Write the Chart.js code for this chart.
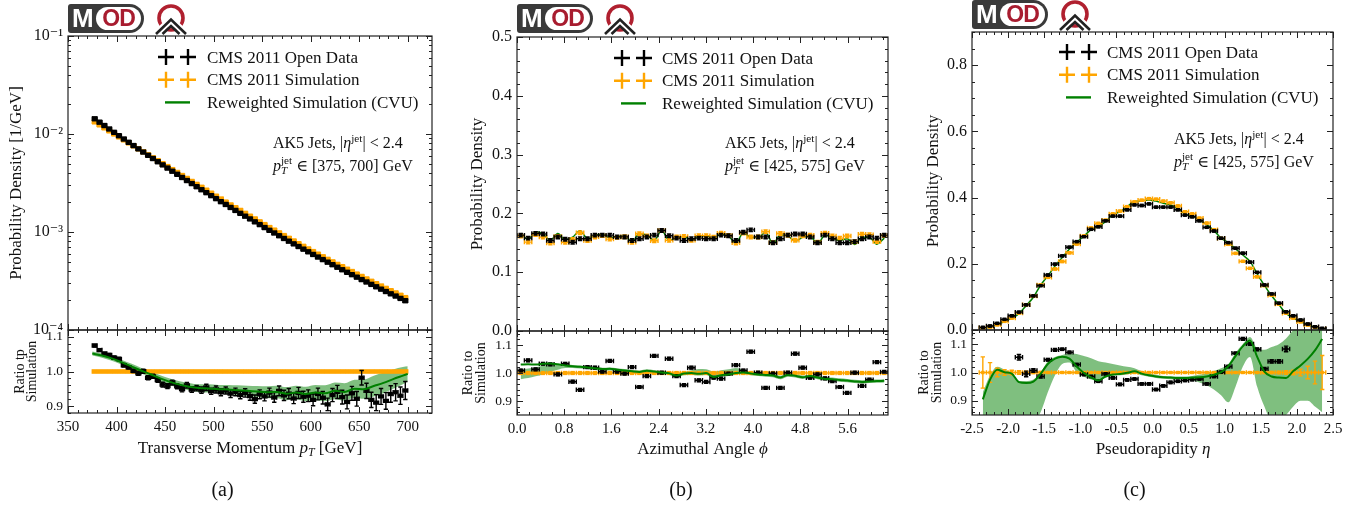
<!DOCTYPE html>
<html>
<head>
<meta charset="utf-8">
<title>CMS 2011 jet distributions</title>
<script src="https://cdn.jsdelivr.net/npm/chart.js@4.4.1/dist/chart.umd.min.js"></script>
<style>
   body { margin: 0; background: #fff; }
   #page { position: relative; width: 1372px; height: 506px; overflow: hidden; }
   canvas { position: absolute; left: 0; top: 0; }
   .mod { position: absolute; width: 76px; height: 29px; background: #3a3a3a; border-radius: 3px 15px 15px 3px;
          font: bold 26px 'Liberation Sans', Arial, sans-serif; color: #fff; }
   .mod .m { position: absolute; left: 4px; top: 0; line-height: 29px; }
   .mod .od { position: absolute; left: 28px; top: 3px; width: 45px; height: 23px; border-radius: 12px; background: #fff;
              color: #a81c2f; font-size: 23px; line-height: 23px; text-align: center; letter-spacing: -1px; }
   .ring { position: absolute; }
</style>
</head>
<body>
<div id="page">
   <canvas id="aMain" width="1372" height="506"></canvas>
   <canvas id="aRatio" width="1372" height="506"></canvas>
   <canvas id="bMain" width="1372" height="506"></canvas>
   <canvas id="bRatio" width="1372" height="506"></canvas>
   <canvas id="cMain" width="1372" height="506"></canvas>
   <canvas id="cRatio" width="1372" height="506"></canvas>
</div>
<script>
'use strict';

var W = 1372, H = 506;
var FONT = "'Liberation Serif', 'DejaVu Serif', serif";
var BLACK = '#000000', ORANGE = '#ffa500', GREEN = '#008000', BAND = 'rgba(0, 128, 0, 0.5)';

var legendLabels = ['CMS 2011 Open Data', 'CMS 2011 Simulation', 'Reweighted Simulation (CVU)'];

// (a) transverse momentum, 5 GeV bins
var ptBins = [377.5, 382.5, 387.5, 392.5, 397.5, 402.5, 407.5, 412.5, 417.5, 422.5,
   427.5, 432.5, 437.5, 442.5, 447.5, 452.5, 457.5, 462.5, 467.5, 472.5,
   477.5, 482.5, 487.5, 492.5, 497.5, 502.5, 507.5, 512.5, 517.5, 522.5,
   527.5, 532.5, 537.5, 542.5, 547.5, 552.5, 557.5, 562.5, 567.5, 572.5,
   577.5, 582.5, 587.5, 592.5, 597.5, 602.5, 607.5, 612.5, 617.5, 622.5,
   627.5, 632.5, 637.5, 642.5, 647.5, 652.5, 657.5, 662.5, 667.5, 672.5,
   677.5, 682.5, 687.5, 692.5, 697.5];
var ptData = [1.43e-2, 1.32e-2, 1.22e-2, 1.125e-2, 1.04e-2, 9.61e-3, 8.89e-3, 8.23e-3, 7.62e-3, 7.05e-3,
   6.54e-3, 6.06e-3, 5.62e-3, 5.21e-3, 4.84e-3, 4.49e-3, 4.17e-3, 3.88e-3, 3.60e-3, 3.35e-3,
   3.12e-3, 2.90e-3, 2.70e-3, 2.52e-3, 2.35e-3, 2.19e-3, 2.04e-3, 1.91e-3, 1.78e-3, 1.66e-3,
   1.55e-3, 1.45e-3, 1.36e-3, 1.27e-3, 1.19e-3, 1.11e-3, 1.04e-3, 9.77e-4, 9.16e-4, 8.59e-4,
   8.06e-4, 7.57e-4, 7.11e-4, 6.68e-4, 6.28e-4, 5.90e-4, 5.55e-4, 5.23e-4, 4.92e-4, 4.64e-4,
   4.37e-4, 4.12e-4, 3.88e-4, 3.67e-4, 3.46e-4, 3.27e-4, 3.09e-4, 2.92e-4, 2.76e-4, 2.61e-4,
   2.47e-4, 2.34e-4, 2.22e-4, 2.10e-4, 1.99e-4];
var ptSim = [1.33e-2, 1.24e-2, 1.156e-2, 1.077e-2, 1.002e-2, 9.34e-3, 8.71e-3, 8.12e-3, 7.57e-3, 7.06e-3,
   6.58e-3, 6.14e-3, 5.72e-3, 5.34e-3, 4.98e-3, 4.65e-3, 4.33e-3, 4.05e-3, 3.77e-3, 3.52e-3,
   3.28e-3, 3.06e-3, 2.86e-3, 2.67e-3, 2.49e-3, 2.32e-3, 2.17e-3, 2.02e-3, 1.89e-3, 1.77e-3,
   1.66e-3, 1.55e-3, 1.45e-3, 1.36e-3, 1.27e-3, 1.19e-3, 1.11e-3, 1.045e-3, 9.80e-4, 9.19e-4,
   8.62e-4, 8.10e-4, 7.60e-4, 7.14e-4, 6.72e-4, 6.31e-4, 5.94e-4, 5.59e-4, 5.26e-4, 4.96e-4,
   4.67e-4, 4.43e-4, 4.17e-4, 3.95e-4, 3.72e-4, 3.52e-4, 3.32e-4, 3.14e-4, 2.97e-4, 2.81e-4,
   2.66e-4, 2.52e-4, 2.39e-4, 2.26e-4, 2.14e-4];
var ptRatio = [1.075, 1.062, 1.052, 1.048, 1.040, 1.036, 1.018, 1.012, 1.002, 0.995,
   1.001, 0.982, 0.986, 0.975, 0.962, 0.958, 0.968, 0.957, 0.949, 0.960,
   0.948, 0.952, 0.946, 0.954, 0.943, 0.948, 0.940, 0.945, 0.936, 0.941,
   0.932, 0.938, 0.929, 0.920, 0.934, 0.928, 0.939, 0.925, 0.944, 0.931,
   0.936, 0.922, 0.938, 0.927, 0.930, 0.918, 0.935, 0.924, 0.905, 0.932,
   0.941, 0.926, 0.912, 0.937, 0.921, 0.982, 0.944, 0.918, 0.910, 0.928,
   0.915, 0.935, 0.940, 0.930, 0.945];
var ptRatioErr = [0.004, 0.004, 0.004, 0.004, 0.005, 0.005, 0.005, 0.005, 0.005, 0.006,
   0.006, 0.006, 0.006, 0.006, 0.007, 0.007, 0.007, 0.007, 0.008, 0.008,
   0.008, 0.008, 0.009, 0.009, 0.009, 0.010, 0.010, 0.010, 0.011, 0.011,
   0.011, 0.012, 0.012, 0.012, 0.013, 0.013, 0.013, 0.014, 0.014, 0.015,
   0.015, 0.015, 0.016, 0.016, 0.017, 0.017, 0.017, 0.018, 0.018, 0.019,
   0.019, 0.020, 0.020, 0.020, 0.021, 0.021, 0.022, 0.022, 0.023, 0.023,
   0.024, 0.024, 0.025, 0.025, 0.026];
var ptSimRatio = [1, 1, 1, 1, 1, 1, 1, 1, 1, 1, 1, 1, 1,
   1, 1, 1, 1, 1, 1, 1, 1, 1, 1, 1, 1, 1,
   1, 1, 1, 1, 1, 1, 1, 1, 1, 1, 1, 1, 1,
   1, 1, 1, 1, 1, 1, 1, 1, 1, 1, 1, 1, 1,
   1, 1, 1, 1, 1, 1, 1, 1, 1, 1, 1, 1, 1];
var ptSimRatioErr = 0.004;
var ptRwX = [375, 385, 395, 405, 415, 425, 435, 445, 455, 465, 475, 485, 495, 505, 515, 525, 535,
   545, 555, 565, 575, 585, 595, 605, 615, 625, 635, 645, 655, 665, 675, 685, 695, 700];
var ptRw = [1.052, 1.046, 1.038, 1.027, 1.015, 1.003, 0.992, 0.980, 0.970, 0.962, 0.956, 0.952, 0.951, 0.949, 0.948, 0.946, 0.944,
   0.942, 0.940, 0.941, 0.936, 0.939, 0.935, 0.939, 0.937, 0.944, 0.941, 0.950, 0.949, 0.958, 0.967, 0.978, 0.988, 0.993];
var ptRwErr = [0.006, 0.006, 0.007, 0.007, 0.008, 0.008, 0.009, 0.009, 0.010, 0.010, 0.011, 0.011, 0.012, 0.012, 0.013, 0.014, 0.015,
   0.016, 0.017, 0.018, 0.019, 0.020, 0.021, 0.022, 0.023, 0.024, 0.025, 0.026, 0.028, 0.030, 0.030, 0.028, 0.025, 0.022];
var ptXTicks = [350, 400, 450, 500, 550, 600, 650, 700];
var ptYTicks = [1e-4, 1e-3, 1e-2, 1e-1];

// (b) azimuthal angle, 50 bins over [0, 2 pi]
var phiBins = [0.063, 0.188, 0.314, 0.440, 0.565, 0.691, 0.817, 0.942, 1.068, 1.194,
   1.319, 1.445, 1.571, 1.696, 1.822, 1.948, 2.073, 2.199, 2.325, 2.450,
   2.576, 2.702, 2.827, 2.953, 3.079, 3.204, 3.330, 3.456, 3.581, 3.707,
   3.833, 3.958, 4.084, 4.210, 4.335, 4.461, 4.587, 4.712, 4.838, 4.964,
   5.089, 5.215, 5.341, 5.466, 5.592, 5.718, 5.843, 5.969, 6.095, 6.220];
var phiData = [0.163, 0.158, 0.166, 0.165, 0.154, 0.160, 0.156, 0.151, 0.157, 0.157,
   0.163, 0.163, 0.163, 0.160, 0.160, 0.154, 0.157, 0.160, 0.163, 0.171,
   0.162, 0.158, 0.154, 0.157, 0.158, 0.157, 0.157, 0.163, 0.162, 0.154,
   0.168, 0.172, 0.160, 0.160, 0.150, 0.157, 0.163, 0.165, 0.165, 0.160,
   0.150, 0.163, 0.157, 0.150, 0.150, 0.152, 0.157, 0.160, 0.158, 0.163];
var phiSim = [0.1615, 0.1512, 0.1639, 0.1597, 0.1494, 0.1608, 0.1510, 0.1558, 0.1670, 0.1538,
   0.1600, 0.1622, 0.1563, 0.1592, 0.1603, 0.1508, 0.1653, 0.1618, 0.1536, 0.1708,
   0.1541, 0.1598, 0.1609, 0.1541, 0.1622, 0.1622, 0.1597, 0.1663, 0.1623, 0.1498,
   0.1665, 0.1599, 0.1598, 0.1690, 0.1503, 0.1658, 0.1628, 0.1543, 0.1619, 0.1628,
   0.1508, 0.1662, 0.1617, 0.1579, 0.1615, 0.1518, 0.1646, 0.1639, 0.1521, 0.1624];
var phiRwMain = [0.1663, 0.1559, 0.1688, 0.1650, 0.1545, 0.1658, 0.1551, 0.1595, 0.1707, 0.1569,
   0.1627, 0.1645, 0.1586, 0.1611, 0.1617, 0.1517, 0.1660, 0.1631, 0.1544, 0.1711,
   0.1539, 0.1584, 0.1606, 0.1541, 0.1617, 0.1622, 0.1575, 0.1650, 0.1615, 0.1498,
   0.1668, 0.1596, 0.1590, 0.1678, 0.1489, 0.1631, 0.1617, 0.1528, 0.1595, 0.1610,
   0.1484, 0.1627, 0.1581, 0.1540, 0.1571, 0.1472, 0.1593, 0.1590, 0.1477, 0.1579];
var phiErr = 0.003;
var phiRatio = [1.009, 1.045, 1.013, 1.033, 1.031, 0.995, 1.033, 0.969, 0.940, 1.021,
   1.019, 1.005, 1.043, 1.005, 0.998, 1.021, 0.950, 0.989, 1.061, 1.001,
   1.051, 0.989, 0.957, 1.019, 0.974, 0.968, 0.983, 0.980, 0.998, 1.028,
   1.009, 1.076, 1.001, 0.947, 0.998, 0.947, 1.001, 1.069, 1.019, 0.983,
   0.995, 0.981, 0.971, 0.950, 0.929, 1.001, 0.954, 0.976, 1.039, 1.004];
var phiRatioErr = 0.005;
var phiSimRatio = [1, 1, 1, 1, 1, 1, 1, 1, 1, 1,
   1, 1, 1, 1, 1, 1, 1, 1, 1, 1,
   1, 1, 1, 1, 1, 1, 1, 1, 1, 1,
   1, 1, 1, 1, 1, 1, 1, 1, 1, 1,
   1, 1, 1, 1, 1, 1, 1, 1, 1, 1];
var phiSimRatioErr = 0.004;
var phiRw = [1.030, 1.031, 1.030, 1.033, 1.034, 1.031, 1.027, 1.024, 1.022, 1.020,
   1.017, 1.014, 1.015, 1.012, 1.009, 1.006, 1.004, 1.008, 1.005, 1.002,
   0.999, 0.991, 0.998, 1.000, 0.997, 1.000, 0.986, 0.992, 0.995, 1.000,
   1.002, 0.998, 0.995, 0.993, 0.991, 0.984, 0.993, 0.990, 0.985, 0.989,
   0.984, 0.979, 0.978, 0.975, 0.973, 0.970, 0.968, 0.970, 0.971, 0.972];
var phiBandLo = [0.978, 0.982, 0.988, 0.995, 1.004, 1.012, 1.018, 1.018, 1.016, 1.014,
   1.011, 1.008, 1.009, 1.006, 1.003, 1.000, 0.998, 1.002, 0.999, 0.996,
   0.993, 0.986, 0.992, 0.994, 0.991, 0.993, 0.981, 0.986, 0.989, 0.994,
   0.996, 0.992, 0.989, 0.987, 0.985, 0.978, 0.987, 0.984, 0.979, 0.983,
   0.978, 0.973, 0.972, 0.969, 0.967, 0.964, 0.962, 0.964, 0.965, 0.966];
var phiBandHi = [1.012, 1.016, 1.020, 1.026, 1.030, 1.032, 1.031, 1.029, 1.027, 1.025,
   1.022, 1.019, 1.020, 1.017, 1.014, 1.011, 1.009, 1.013, 1.010, 1.007,
   1.004, 0.997, 1.004, 1.010, 1.014, 1.013, 1.005, 1.010, 1.013, 1.018,
   1.012, 1.004, 1.001, 0.999, 0.997, 0.990, 0.999, 0.996, 0.991, 0.995,
   0.990, 0.985, 0.984, 0.981, 0.979, 0.976, 0.974, 0.976, 0.977, 0.978];
var phiXTicks = [0, 0.8, 1.6, 2.4, 3.2, 4.0, 4.8, 5.6];
var phiYTicks = [0, 0.1, 0.2, 0.3, 0.4, 0.5];

// (c) pseudorapidity, 0.1 bins over [-2.4, 2.4]
var etaBins = [-2.35, -2.25, -2.15, -2.05, -1.95, -1.85, -1.75, -1.65, -1.55, -1.45, -1.35, -1.25,
   -1.15, -1.05, -0.95, -0.85, -0.75, -0.65, -0.55, -0.45, -0.35, -0.25, -0.15, -0.05,
   0.05, 0.15, 0.25, 0.35, 0.45, 0.55, 0.65, 0.75, 0.85, 0.95, 1.05, 1.15,
   1.25, 1.35, 1.45, 1.55, 1.65, 1.75, 1.85, 1.95, 2.05, 2.15, 2.25, 2.35];
var etaData = [0.008, 0.012, 0.020, 0.032, 0.043, 0.054, 0.076, 0.103, 0.134, 0.166,
   0.199, 0.224, 0.250, 0.267, 0.282, 0.304, 0.312, 0.330, 0.344, 0.344,
   0.363, 0.378, 0.376, 0.381, 0.371, 0.371, 0.371, 0.363, 0.347, 0.342,
   0.330, 0.310, 0.299, 0.277, 0.264, 0.247, 0.232, 0.205, 0.174, 0.136,
   0.109, 0.081, 0.055, 0.043, 0.030, 0.018, 0.010, 0.005];
var etaSim = [0.006, 0.009, 0.016, 0.026, 0.036, 0.0512, 0.0764, 0.1023, 0.1359, 0.1589,
   0.1843, 0.2070, 0.2334, 0.2597, 0.2840, 0.3083, 0.3220, 0.3317, 0.3507, 0.3591,
   0.3727, 0.3869, 0.3917, 0.3969, 0.3947, 0.3893, 0.3845, 0.3746, 0.3570, 0.3508,
   0.3378, 0.3229, 0.3032, 0.2767, 0.2586, 0.2313, 0.2073, 0.1862, 0.1608, 0.1343,
   0.1049, 0.0780, 0.0508, 0.036, 0.025, 0.015, 0.008, 0.004];
var etaRwMain = [0.0054, 0.0088, 0.0162, 0.0260, 0.0359, 0.0495, 0.0736, 0.0990, 0.1352, 0.1637,
   0.1933, 0.2186, 0.2448, 0.2652, 0.2834, 0.3031, 0.3130, 0.3271, 0.3482, 0.3573,
   0.3723, 0.3884, 0.3901, 0.3929, 0.3892, 0.3827, 0.3776, 0.3675, 0.3502, 0.3445,
   0.3321, 0.3184, 0.3008, 0.2770, 0.2643, 0.2447, 0.2264, 0.2072, 0.1696, 0.1347,
   0.1034, 0.0766, 0.0498, 0.0362, 0.0256, 0.0157, 0.0086, 0.0045];
var etaErr = 0.003;
var etaRatio = [null, null, null, null, null, 1.054, 0.995, 1.007, 0.986, 1.045,
   1.080, 1.082, 1.071, 1.028, 0.993, 0.986, 0.969, 0.995, 0.981, 0.958,
   0.974, 0.977, 0.960, 0.960, 0.940, 0.953, 0.965, 0.969, 0.972, 0.975,
   0.977, 0.960, 0.986, 1.001, 1.021, 1.068, 1.119, 1.101, 1.082, 1.013,
   1.039, 1.039, 1.083, null, null, null, null, null];
var etaRatioErr = [0, 0, 0, 0, 0, 0.010, 0.010, 0.006, 0.006, 0.005,
   0.005, 0.004, 0.004, 0.004, 0.004, 0.004, 0.004, 0.004, 0.004, 0.004,
   0.004, 0.004, 0.004, 0.004, 0.004, 0.004, 0.004, 0.004, 0.004, 0.004,
   0.004, 0.004, 0.004, 0.004, 0.004, 0.004, 0.005, 0.005, 0.005, 0.005,
   0.006, 0.006, 0.010, 0, 0, 0, 0, 0];
var etaSimRatio = [1, 1, 1, 1, 1, 1, 1, 1, 1, 1, 1, 1,
   1, 1, 1, 1, 1, 1, 1, 1, 1, 1, 1, 1,
   1, 1, 1, 1, 1, 1, 1, 1, 1, 1, 1, 1,
   1, 1, 1, 1, 1, 1, 1, 1, 1, 1, 1, 1];
var etaSimRatioErr = [0.055, 0.035, 0.015, 0.010, 0.008, 0.006, 0.005, 0.004, 0.004, 0.003,
   0.003, 0.003, 0.003, 0.003, 0.003, 0.003, 0.003, 0.003, 0.003, 0.003,
   0.003, 0.003, 0.003, 0.003, 0.003, 0.003, 0.003, 0.003, 0.003, 0.003,
   0.003, 0.003, 0.003, 0.003, 0.003, 0.003, 0.003, 0.003, 0.003, 0.004,
   0.004, 0.005, 0.006, 0.008, 0.012, 0.022, 0.040, 0.060];
var etaRw = [0.905, 0.975, 1.010, 1.001, 0.996, 0.966, 0.963, 0.968, 0.995, 1.030,
   1.049, 1.056, 1.049, 1.021, 0.998, 0.983, 0.972, 0.986, 0.993, 0.995,
   0.999, 1.004, 0.996, 0.990, 0.986, 0.983, 0.982, 0.981, 0.981, 0.982,
   0.983, 0.986, 0.992, 1.001, 1.022, 1.058, 1.092, 1.113, 1.055, 1.003,
   0.986, 0.982, 0.981, 1.005, 1.025, 1.048, 1.078, 1.118];
var etaBandLo = [0.83, 0.83, 0.83, 0.83, 0.83, 0.83, 0.83, 0.83, 0.86, 0.93,
   0.99, 1.03, 1.035, 1.00, 0.985, 0.975, 0.97, 0.982, 0.988, 0.99,
   0.993, 0.997, 0.99, 0.985, 0.981, 0.978, 0.976, 0.975, 0.974, 0.972,
   0.965, 0.955, 0.94, 0.92, 0.895, 0.95, 1.02, 1.055, 0.95, 0.88,
   0.83, 0.83, 0.85, 0.88, 0.90, 0.90, 0.88, 0.86];
var etaBandHi = [0.93, 0.99, 1.02, 1.01, 1.00, 0.97, 0.97, 0.975, 1.00, 1.04,
   1.055, 1.062, 1.068, 1.065, 1.058, 1.05, 1.04, 1.035, 1.03, 1.025,
   1.02, 1.015, 1.005, 0.998, 0.992, 0.988, 0.987, 0.986, 0.986, 0.988,
   0.992, 0.997, 1.005, 1.015, 1.03, 1.07, 1.10, 1.125, 1.085, 1.08,
   1.09, 1.10, 1.12, 1.15, 1.17, 1.17, 1.17, 1.17];
var etaXTicks = [-2.5, -2, -1.5, -1, -0.5, 0, 0.5, 1, 1.5, 2, 2.5];
var etaYTicks = [0, 0.2, 0.4, 0.6, 0.8];

var ratioTicks = [0.9, 1.0, 1.1];

Chart.defaults.font.family = FONT;
Chart.defaults.color = '#111';

// minor tick positions between the major ones
function minors(min, max, step, major) {
   var out = [];
   for (var v = Math.ceil(min / step - 1e-9) * step; v <= max + 1e-9; v += step) {
      if (!major.some(function (m) { return Math.abs(m - v) < step / 10; })) out.push(v);
   }
   return out;
}
var logMinors = [];
[1e-4, 1e-3, 1e-2].forEach(function (d) {
   for (var k = 2; k < 10; k++) logMinors.push(k * d);
});

function pow10(v) {
   var e = Math.round(Math.log10(v));
   return '10' + (e < 0 ? '\u207b' : '') + '\u2070\u00b9\u00b2\u00b3\u2074\u2075\u2076\u2077\u2078\u2079'[Math.abs(e)];
}
function fixed1(v) { return v.toFixed(1); }

// text made of runs: [text, style, noAdvance]; style '' | 'i' | 'sup' | 'isub'
function drawRuns(ctx, t) {
   var size = t.size, segs = [], w = 0;
   t.parts.forEach(function (p) {
      var st = p[1] || '';
      var small = st === 'sup' || st === 'isub';
      var font = (st === 'i' || st === 'isub' ? 'italic ' : '') + (small ? size * 0.7 : size) + 'px ' + FONT;
      ctx.font = font;
      segs.push({s: p[0], font: font, x: w, dy: st === 'sup' ? -0.42 * size : (st === 'isub' ? 0.22 * size : 0)});
      if (!p[2]) w += ctx.measureText(p[0]).width;
   });
   ctx.save();
   ctx.translate(t.x, t.y);
   if (t.rot) ctx.rotate(-Math.PI / 2);
   ctx.fillStyle = '#111';
   ctx.textAlign = 'left';
   ctx.textBaseline = 'alphabetic';
   var x0 = t.align === 'left' ? 0 : -w / 2, base = 0.33 * size;
   segs.forEach(function (g) {
      ctx.font = g.font;
      ctx.fillText(g.s, x0 + g.x, base + g.dy);
   });
   ctx.restore();
}

function drawLegend(ctx, lg) {
   [BLACK, ORANGE, GREEN].forEach(function (c, k) {
      var y = lg.y + k * 22.7;
      ctx.strokeStyle = c;
      ctx.lineWidth = 2.4;
      ctx.beginPath();
      if (k < 2) {
         [lg.x, lg.x + 22].forEach(function (x) {
            ctx.moveTo(x - 8, y); ctx.lineTo(x + 8, y);
            ctx.moveTo(x, y - 8); ctx.lineTo(x, y + 8);
         });
      } else {
         ctx.moveTo(lg.x - 1, y); ctx.lineTo(lg.x + 24, y);
      }
      ctx.stroke();
      drawRuns(ctx, {x: lg.tx, y: y, size: 17, align: 'left', parts: [[legendLabels[k]]]});
   });
}

var decos = {};

var hep = {
   id: 'hep',
   afterDatasetDraw: function (chart, args) {
      var ds = chart.data.datasets[args.index];
      if (ds.xe === undefined) return;
      var ctx = chart.ctx, sx = chart.scales.x, sy = chart.scales.y, a = chart.chartArea, cap = 2.2;
      ctx.save();
      ctx.beginPath();
      ctx.rect(a.left, a.top, a.right - a.left, a.bottom - a.top);
      ctx.clip();
      ctx.strokeStyle = ds.borderColor;
      ctx.lineWidth = 1.4;
      ctx.beginPath();
      ds.data.forEach(function (p, i) {
         if (p.y === null) return;
         var ye = Array.isArray(ds.ye) ? ds.ye[i] : ds.ye;
         var x0 = sx.getPixelForValue(p.x - ds.xe), x1 = sx.getPixelForValue(p.x + ds.xe);
         var xc = sx.getPixelForValue(p.x), yc = sy.getPixelForValue(p.y);
         ctx.moveTo(x0, yc); ctx.lineTo(x1, yc);
         ctx.moveTo(x0, yc - cap); ctx.lineTo(x0, yc + cap);
         ctx.moveTo(x1, yc - cap); ctx.lineTo(x1, yc + cap);
         if (ye > 0) {
            var y0 = sy.getPixelForValue(p.y - ye), y1 = sy.getPixelForValue(p.y + ye);
            ctx.moveTo(xc, y0); ctx.lineTo(xc, y1);
            ctx.moveTo(xc - cap, y0); ctx.lineTo(xc + cap, y0);
            ctx.moveTo(xc - cap, y1); ctx.lineTo(xc + cap, y1);
         }
      });
      ctx.stroke();
      ctx.restore();
   },
   afterDraw: function (chart) {
      var o = decos[chart.canvas.id], ctx = chart.ctx, a = chart.chartArea;
      var sx = chart.scales.x, sy = chart.scales.y;
      ctx.save();
      ctx.strokeStyle = '#222';
      ctx.lineWidth = 1;
      ctx.beginPath();
      [[o.xMajor, 6], [o.xMinor, 3]].forEach(function (set) {
         set[0].forEach(function (v) {
            var x = Math.round(sx.getPixelForValue(v)) + 0.5;
            if (x < a.left - 1 || x > a.right + 1) return;
            ctx.moveTo(x, a.bottom); ctx.lineTo(x, a.bottom - set[1]);
            ctx.moveTo(x, a.top); ctx.lineTo(x, a.top + set[1]);
         });
      });
      [[o.yMajor, 6], [o.yMinor, 3]].forEach(function (set) {
         set[0].forEach(function (v) {
            var y = Math.round(sy.getPixelForValue(v)) + 0.5;
            if (y < a.top - 1 || y > a.bottom + 1) return;
            ctx.moveTo(a.left, y); ctx.lineTo(a.left + set[1], y);
            ctx.moveTo(a.right, y); ctx.lineTo(a.right - set[1], y);
         });
      });
      ctx.stroke();
      ctx.lineWidth = 1.2;
      ctx.strokeRect(a.left, a.top, a.right - a.left, a.bottom - a.top);
      (o.texts || []).forEach(function (t) { drawRuns(ctx, t); });
      if (o.legend) drawLegend(ctx, o.legend);
      ctx.restore();
   }
};

function axis(o, dir, labels) {
   return {
      type: o.type || 'linear',
      min: o.min,
      max: o.max,
      grid: {display: false, drawTicks: false},
      border: {display: false},
      afterBuildTicks: function (s) {
         s.ticks = o.major.map(function (v) { return {value: v}; });
      },
      afterFit: function (s) {
         if (dir === 'x') s.height = labels ? 30 : 0;
         else s.width = 60;
      },
      ticks: {display: labels, autoSkip: false, maxRotation: 0, padding: 5,
         color: '#111', font: {size: o.size || 15}, callback: o.fmt || fixed1}
   };
}

function makeChart(id, area, xo, yo, datasets, deco) {
   var xLab = xo.show !== false;
   deco.xMajor = xo.major; deco.xMinor = xo.minor;
   deco.yMajor = yo.major; deco.yMinor = yo.minor;
   decos[id] = deco;
   return new Chart(document.getElementById(id), {
      type: 'line',
      data: {datasets: datasets},
      options: {
         responsive: false,
         animation: false,
         events: [],
         layout: {padding: {left: area.l - 60, right: W - area.r, top: area.t, bottom: H - area.b - (xLab ? 30 : 0)}},
         plugins: {legend: {display: false}, tooltip: {enabled: false}},
         scales: {x: axis(xo, 'x', xLab), y: axis(yo, 'y', true)}
      },
      plugins: [hep]
   });
}

function pts(xs, ys) {
   return xs.map(function (x, i) { return {x: x, y: ys[i]}; });
}
function errSet(label, xs, ys, color, xe, ye, r) {
   return {label: label, data: pts(xs, ys), showLine: false, pointStyle: 'rect', pointRadius: r,
      pointBackgroundColor: color, pointBorderWidth: 0, borderColor: color, backgroundColor: color, xe: xe, ye: ye};
}
function lineSet(label, xs, ys, width) {
   return {label: label, data: pts(xs, ys), borderColor: GREEN, borderWidth: width, pointRadius: 0,
      fill: false, cubicInterpolationMode: 'monotone'};
}
function bandSets(xs, lo, hi) {
   return [
      {data: pts(xs, hi), borderColor: 'rgba(0,0,0,0)', backgroundColor: BAND, pointRadius: 0, fill: '+1', cubicInterpolationMode: 'monotone'},
      {data: pts(xs, lo), borderColor: 'rgba(0,0,0,0)', pointRadius: 0, fill: false, cubicInterpolationMode: 'monotone'}
   ];
}

function annotation(x, y, range) {
   return [
      {x: x, y: y, size: 16, align: 'left', parts: [['AK5 Jets, |'], ['\u03b7', 'i'], ['jet', 'sup'], ['| < 2.4']]},
      {x: x, y: y + 22.5, size: 16, align: 'left', parts: [['p', 'i'], ['T', 'isub', 1], ['jet', 'sup'], [' \u2208 ' + range + ' GeV']]}
   ];
}
function ratioTitle(x1, x2, y, first) {
   return [
      {x: x1, y: y, size: 14, rot: true, parts: [[first]]},
      {x: x2, y: y, size: 14, rot: true, parts: [['Simulation']]}
   ];
}

// (a)
makeChart('aMain', {l: 68, r: 432, t: 36, b: 330},
   {min: 350, max: 725, major: ptXTicks, minor: minors(350, 725, 10, ptXTicks), show: false},
   {type: 'logarithmic', min: 1e-4, max: 1e-1, major: ptYTicks, minor: logMinors, fmt: pow10, size: 16},
   [errSet(legendLabels[0], ptBins, ptData, BLACK, 2.5, 0, 3.8),
    errSet(legendLabels[1], ptBins, ptSim, ORANGE, 2.5, 0, 3.8)],
   {texts: [{x: 15.5, y: 183, size: 17, rot: true, parts: [['Probability Density [1/GeV]']]}]
      .concat(annotation(273, 143, '[375, 700]')),
    legend: {x: 166, y: 57, tx: 207}});

makeChart('aRatio', {l: 68, r: 432, t: 330, b: 413},
   {min: 350, max: 725, major: ptXTicks, minor: minors(350, 725, 10, ptXTicks), fmt: String},
   {min: 0.88, max: 1.12, major: ratioTicks, minor: minors(0.88, 1.12, 0.02, ratioTicks), size: 13.5},
   [lineSet(legendLabels[2], ptRwX, ptRw, 2),
    errSet(legendLabels[0], ptBins, ptRatio, BLACK, 2.5, ptRatioErr, 3),
    errSet(legendLabels[1], ptBins, ptSimRatio, ORANGE, 2.5, ptSimRatioErr, 3)]
      .concat(bandSets(ptRwX,
         ptRw.map(function (v, i) { return v - ptRwErr[i]; }),
         ptRw.map(function (v, i) { return v + ptRwErr[i]; }))),
   {texts: ratioTitle(19, 31, 371.5, 'Ratio tp').concat([
      {x: 250, y: 447, size: 17, parts: [['Transverse Momentum '], ['p', 'i'], ['T', 'isub'], [' [GeV]']]},
      {x: 222.5, y: 489, size: 20, parts: [['(a)']]}])});

// (b)
makeChart('bMain', {l: 517, r: 888, t: 37, b: 331},
   {min: 0, max: 6.2832, major: phiXTicks, minor: minors(0, 6.2832, 0.2, phiXTicks), show: false},
   {min: 0, max: 0.5, major: phiYTicks, minor: minors(0, 0.5, 0.02, phiYTicks), size: 16},
   [errSet(legendLabels[0], phiBins, phiData, BLACK, 0.0628, phiErr, 2.4),
    errSet(legendLabels[1], phiBins, phiSim, ORANGE, 0.0628, phiErr, 2.4),
    lineSet(legendLabels[2], phiBins, phiRwMain, 1.5)],
   {texts: [{x: 476.5, y: 184, size: 17, rot: true, parts: [['Probability Density']]}]
      .concat(annotation(725, 143, '[425, 575]')),
    legend: {x: 622, y: 58, tx: 662}});

makeChart('bRatio', {l: 517, r: 888, t: 331, b: 415},
   {min: 0, max: 6.2832, major: phiXTicks, minor: minors(0, 6.2832, 0.2, phiXTicks)},
   {min: 0.85, max: 1.15, major: ratioTicks, minor: minors(0.85, 1.15, 0.02, ratioTicks), size: 13.5},
   [lineSet(legendLabels[2], phiBins, phiRw, 2),
    errSet(legendLabels[0], phiBins, phiRatio, BLACK, 0.0628, phiRatioErr, 2.6),
    errSet(legendLabels[1], phiBins, phiSimRatio, ORANGE, 0.0628, phiSimRatioErr, 3)]
      .concat(bandSets(phiBins, phiBandLo, phiBandHi)),
   {texts: ratioTitle(467.5, 480.5, 373, 'Ratio to').concat([
      {x: 702.5, y: 448, size: 17, parts: [['Azimuthal Angle '], ['\u03d5', 'i']]},
      {x: 681, y: 489, size: 20, parts: [['(b)']]}])});

// (c)
makeChart('cMain', {l: 972, r: 1333, t: 32, b: 330},
   {min: -2.5, max: 2.5, major: etaXTicks, minor: minors(-2.5, 2.5, 0.1, etaXTicks), show: false},
   {min: 0, max: 0.9, major: etaYTicks, minor: minors(0, 0.9, 0.05, etaYTicks), size: 16},
   [errSet(legendLabels[0], etaBins, etaData, BLACK, 0.05, etaErr, 2.4),
    errSet(legendLabels[1], etaBins, etaSim, ORANGE, 0.05, etaErr, 2.4),
    lineSet(legendLabels[2], etaBins, etaRwMain, 1.5)],
   {texts: [{x: 932.5, y: 181, size: 17, rot: true, parts: [['Probability Density']]}]
      .concat(annotation(1174, 139, '[425, 575]')),
    legend: {x: 1067, y: 52, tx: 1107}});

makeChart('cRatio', {l: 972, r: 1333, t: 330, b: 415},
   {min: -2.5, max: 2.5, major: etaXTicks, minor: minors(-2.5, 2.5, 0.1, etaXTicks)},
   {min: 0.85, max: 1.15, major: ratioTicks, minor: minors(0.85, 1.15, 0.02, ratioTicks), size: 13.5},
   [lineSet(legendLabels[2], etaBins, etaRw, 2),
    errSet(legendLabels[0], etaBins, etaRatio, BLACK, 0.05, etaRatioErr, 2.6),
    errSet(legendLabels[1], etaBins, etaSimRatio, ORANGE, 0.05, etaSimRatioErr, 2.4)]
      .concat(bandSets(etaBins, etaBandLo, etaBandHi)),
   {texts: ratioTitle(923, 936, 372.5, 'Ratio to').concat([
      {x: 1153, y: 448, size: 17, parts: [['Pseudorapidity '], ['\u03b7', 'i']]},
      {x: 1134.5, y: 489, size: 20, parts: [['(c)']]}])});

// MOD logos above each panel
function addLogo(x, y) {
   var page = document.getElementById('page');
   page.insertAdjacentHTML('beforeend',
      '<div class="mod" style="left:' + x + 'px;top:' + y + 'px"><span class="m">M</span><span class="od">OD</span></div>' +
      '<svg class="ring" style="left:' + (x + 87) + 'px;top:' + (y - 1) + 'px" width="34" height="32">' +
      '<circle cx="16" cy="15" r="12" fill="none" stroke="#b0202f" stroke-width="3.6"/>' +
      '<path d="M1 31 L16 16.5 L31 31" fill="none" stroke="#fff" stroke-width="7"/>' +
      '<path d="M1 31 L16 16.5 L31 31" fill="none" stroke="#222" stroke-width="2.6"/>' +
      '<path d="M7.5 31 L16 23 L24.5 31" fill="none" stroke="#222" stroke-width="2.6"/></svg>');
}
addLogo(68, 4);
addLogo(517, 4);
addLogo(972, 0);
</script>
</body>
</html>
